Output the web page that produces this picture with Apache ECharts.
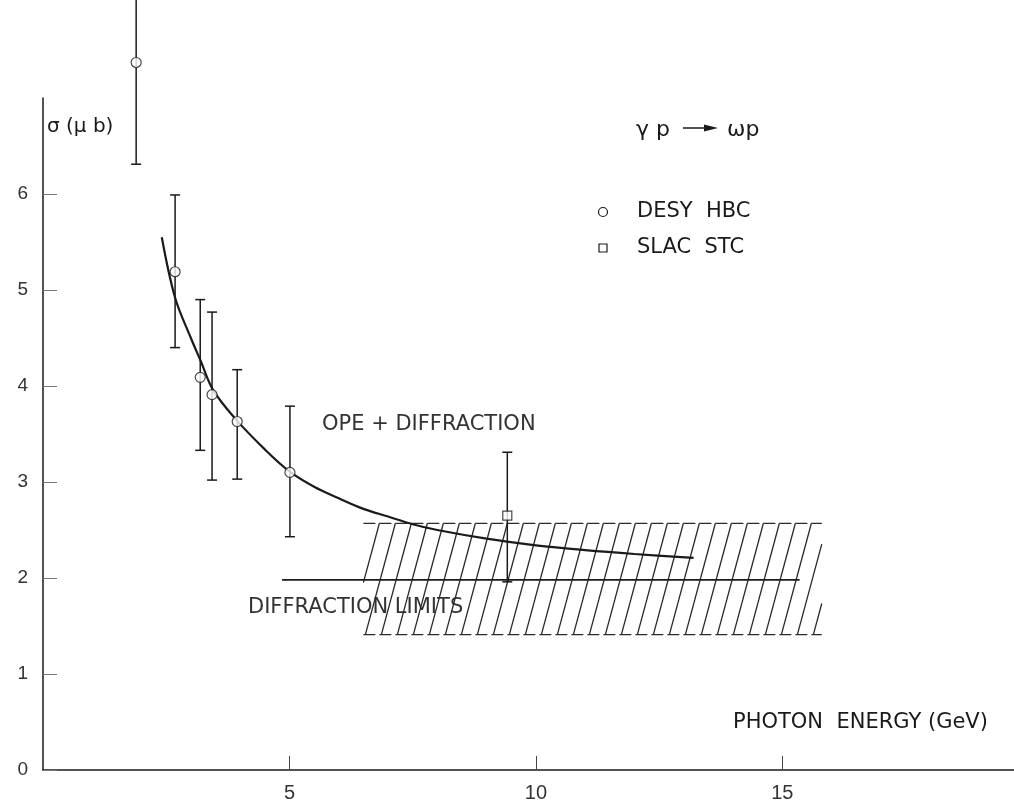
<!DOCTYPE html>
<html>
<head>
<meta charset="utf-8">
<title>gamma p -> omega p</title>
<script src="https://cdn.jsdelivr.net/npm/echarts@6/dist/echarts.min.js"></script>
<style>
  html, body { margin: 0; background: #fff; }
  #main { width: 1014px; height: 804px; }
</style>
</head>
<body>
<div id="main"></div>
<script>
// photon energy (GeV) and cross-section (microbarn)
const desyE = [1.89, 2.68, 3.19, 3.43, 3.94, 5.01];
const desySigma = [7.37, 5.19, 4.09, 3.91, 3.63, 3.10];
const desyLo = [6.31, 4.40, 3.33, 3.02, 3.03, 2.43];
const desyHi = [8.1, 5.99, 4.90, 4.77, 4.17, 3.79];

const slacE = [9.42];
const slacSigma = [2.65];
const slacLo = [1.96];
const slacHi = [3.31];

// OPE + diffraction curve
const opeE = [2.41, 2.68, 3.0, 3.2, 3.45, 3.9, 4.5, 5.0, 5.5, 6.0, 6.5, 7.0, 7.5, 8.0, 9.0, 10, 11, 12, 13.2];
const opeSigma = [5.55, 4.92, 4.50, 4.26, 3.96, 3.66, 3.34, 3.11, 2.95, 2.83, 2.72, 2.64, 2.56, 2.50, 2.41, 2.34, 2.29, 2.25, 2.21];

// diffraction limits
const limitE = [4.85, 15.35];
const limitSigma = [1.98, 1.98];
const bandE = [6.5, 15.8];
const bandSigma = [1.41, 2.57];

const xTicks = [5, 10, 15];
const yTicks = [0, 1, 2, 3, 4, 5, 6];

const ink = '#1a1a1a';
const fontFam = '"Liberation Sans", Arial, sans-serif';
const wideFam = '"DejaVu Sans", sans-serif';

const zip = (a, b) => a.map((v, i) => [v, b[i]]);
const errData = (e, s, lo, hi) => e.map((v, i) => [v, s[i], lo[i], hi[i]]);

function renderErr(params, api) {
  const x = api.value(0);
  const top = api.coord([x, api.value(3)]);
  const bot = api.coord([x, api.value(2)]);
  const w = 5;
  const st = { stroke: ink, lineWidth: 1.5 };
  return {
    type: 'group',
    children: [
      { type: 'line', shape: { x1: top[0], y1: top[1], x2: bot[0], y2: bot[1] }, style: st },
      { type: 'line', shape: { x1: top[0] - w, y1: top[1], x2: top[0] + w, y2: top[1] }, style: st },
      { type: 'line', shape: { x1: bot[0] - w, y1: bot[1], x2: bot[0] + w, y2: bot[1] }, style: st }
    ]
  };
}

// hatched area between the diffraction limits
function renderBand(params, api) {
  const p0 = api.coord([api.value(0), api.value(2)]);
  const p1 = api.coord([api.value(1), api.value(3)]);
  const L = p0[0], R = p1[0], B = p0[1], T = p1[1];
  const shift = 30, step = 16;
  const st = { stroke: '#2a2a2a', lineWidth: 1.3 };
  const kids = [];
  for (let xb = L - shift; xb < R; xb += step) {
    const t0 = Math.max(0, (L - xb) / shift);
    const t1 = Math.min(1, (R - xb) / shift);
    if (t1 <= t0) continue;
    kids.push({
      type: 'line',
      shape: {
        x1: xb + shift * t0, y1: B + (T - B) * t0,
        x2: xb + shift * t1, y2: B + (T - B) * t1
      },
      style: st
    });
  }
  const edge = { stroke: '#2a2a2a', lineWidth: 1.3, lineDash: [12, 4] };
  kids.push({ type: 'line', shape: { x1: L, y1: T, x2: R, y2: T }, style: edge });
  kids.push({ type: 'line', shape: { x1: L, y1: B, x2: R, y2: B }, style: edge });
  return { type: 'group', children: kids };
}

const chart = echarts.init(document.getElementById('main'));

const option = {
  animation: false,
  backgroundColor: '#fff',
  grid: { left: 43, right: 0, top: 98, bottom: 34, containLabel: false },
  xAxis: {
    type: 'value',
    min: 0,
    max: 19.7,
    axisLine: { show: true, onZero: false, lineStyle: { color: ink, width: 1.5 } },
    axisTick: { show: true, inside: true, length: 14, customValues: xTicks, lineStyle: { color: '#444' } },
    axisLabel: { customValues: xTicks, fontSize: 20, color: '#333', margin: 13, fontFamily: fontFam },
    splitLine: { show: false }
  },
  yAxis: {
    type: 'value',
    min: 0,
    max: 7,
    axisLine: { show: true, onZero: false, lineStyle: { color: ink, width: 1.5 } },
    axisTick: { show: true, inside: true, length: 14, customValues: yTicks, lineStyle: { color: '#777' } },
    axisLabel: { customValues: yTicks, fontSize: 19, color: '#333', margin: 15, fontFamily: fontFam },
    splitLine: { show: false }
  },
  graphic: [
    { type: 'text', x: 47, y: 127, style: { text: 'σ (μ b)', font: '20px ' + wideFam, fill: ink, verticalAlign: 'middle' } },
    // reaction label: gamma p -> omega p
    { type: 'text', x: 636, y: 130, style: { text: 'γ p', font: '22px ' + wideFam, fill: ink, verticalAlign: 'middle' } },
    { type: 'line', shape: { x1: 683, y1: 128, x2: 708, y2: 128 }, style: { stroke: ink, lineWidth: 1.5 } },
    { type: 'polygon', shape: { points: [[718, 128], [704, 124.5], [704, 131.5]] }, style: { fill: ink } },
    { type: 'text', x: 727, y: 130, style: { text: 'ωp', font: '22px ' + wideFam, fill: ink, verticalAlign: 'middle' } },
    // legend
    { type: 'circle', shape: { cx: 603, cy: 212, r: 4.5 }, style: { fill: '#fff', stroke: ink, lineWidth: 1.2 } },
    { type: 'text', x: 637, y: 212, style: { text: 'DESY  HBC', font: '21px ' + wideFam, fill: ink, verticalAlign: 'middle' } },
    { type: 'rect', shape: { x: 599, y: 244, width: 8, height: 8 }, style: { fill: '#fff', stroke: ink, lineWidth: 1.2 } },
    { type: 'text', x: 637, y: 248, style: { text: 'SLAC  STC', font: '21px ' + wideFam, fill: ink, verticalAlign: 'middle' } },
    // curve labels
    { type: 'text', x: 322, y: 425, style: { text: 'OPE + DIFFRACTION', font: '21px ' + wideFam, fill: '#333', verticalAlign: 'middle' } },
    { type: 'text', x: 248, y: 608, style: { text: 'DIFFRACTION LIMITS', font: '21px ' + wideFam, fill: '#333', verticalAlign: 'middle' } },
    { type: 'text', x: 733, y: 723, style: { text: 'PHOTON  ENERGY (GeV)', font: '21px ' + wideFam, fill: ink, verticalAlign: 'middle' } }
  ],
  series: [
    {
      name: 'Diffraction band',
      type: 'custom',
      renderItem: renderBand,
      data: [[bandE[0], bandE[1], bandSigma[0], bandSigma[1]]],
      silent: true,
      z: 1
    },
    {
      name: 'Diffraction limits',
      type: 'line',
      data: zip(limitE, limitSigma),
      symbol: 'none',
      lineStyle: { color: ink, width: 1.6 },
      silent: true,
      z: 2
    },
    {
      name: 'OPE + diffraction',
      type: 'line',
      data: zip(opeE, opeSigma),
      smooth: 0.35,
      symbol: 'none',
      lineStyle: { color: ink, width: 2.2 },
      silent: true,
      z: 3
    },
    {
      name: 'DESY HBC errors',
      type: 'custom',
      renderItem: renderErr,
      data: errData(desyE, desySigma, desyLo, desyHi),
      clip: false,
      z: 4
    },
    {
      name: 'SLAC STC errors',
      type: 'custom',
      renderItem: renderErr,
      data: errData(slacE, slacSigma, slacLo, slacHi),
      clip: false,
      z: 4
    },
    {
      name: 'DESY HBC',
      type: 'scatter',
      data: zip(desyE, desySigma),
      symbol: 'circle',
      symbolSize: 10,
      itemStyle: { color: '#fff', borderColor: ink, borderWidth: 1.2 },
      clip: false,
      z: 5
    },
    {
      name: 'SLAC STC',
      type: 'scatter',
      data: zip(slacE, slacSigma),
      symbol: 'rect',
      symbolSize: 9,
      itemStyle: { color: '#fff', borderColor: ink, borderWidth: 1.2 },
      clip: false,
      z: 5
    }
  ]
};

chart.setOption(option);
window.onresize = function () {
  chart.resize();
};
</script>
</body>
</html>
